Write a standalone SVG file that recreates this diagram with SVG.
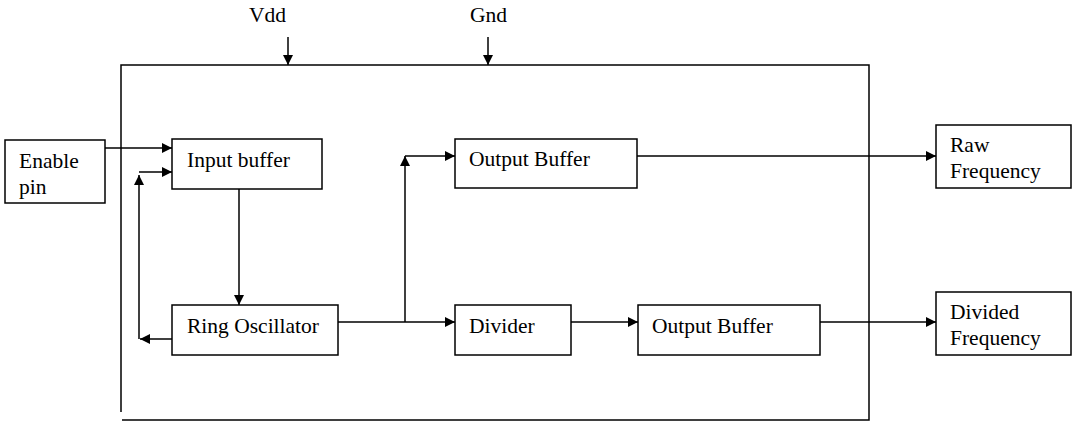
<svg xmlns="http://www.w3.org/2000/svg" width="1080" height="440" viewBox="0 0 1080 440">
<style>
rect{fill:#fff;stroke:#000;stroke-width:1.5}
text{font-family:"Liberation Serif",serif;font-size:21.5px;fill:#000}
#connectors path{fill:none;stroke:#000;stroke-width:1.5}
</style>
<defs><marker id="a" viewBox="0 0 10 10" refX="10" refY="5" markerWidth="10" markerHeight="10" markerUnits="userSpaceOnUse" orient="auto"><path d="M0,0L10,5L0,10z" fill="#000"/></marker></defs>
<rect x="0" y="0" width="1080" height="440" style="stroke:none"/>
<g id="frame"><path d="M121,412V65H869V420H122" fill="none" stroke="#000" stroke-width="1.5"/></g>
<text x="249" y="22">Vdd</text>
<text x="470" y="22">Gnd</text>
<g id="enable"><rect x="5" y="140" width="100" height="63"/><text x="19" y="168">Enable</text><text x="19" y="194">pin</text></g>
<g id="inputbuf"><rect x="172" y="139" width="150" height="50"/><text x="187" y="167">Input buffer</text></g>
<g id="ring"><rect x="172" y="305" width="166" height="50"/><text x="187" y="333">Ring Oscillator</text></g>
<g id="outbuf1"><rect x="455" y="139" width="182" height="49"/><text x="469" y="166">Output Buffer</text></g>
<g id="divider"><rect x="455" y="305" width="116" height="50"/><text x="469" y="333">Divider</text></g>
<g id="outbuf2"><rect x="638" y="305" width="182" height="50"/><text x="652" y="333">Output Buffer</text></g>
<g id="raw"><rect x="936" y="125" width="135" height="63"/><text x="950" y="152">Raw</text><text x="950" y="178">Frequency</text></g>
<g id="divided"><rect x="936" y="292" width="135" height="63"/><text x="950" y="319">Divided</text><text x="950" y="345">Frequency</text></g>
<g id="connectors">
<path d="M288,37V65" marker-end="url(#a)"/>
<path d="M488,37V65" marker-end="url(#a)"/>
<path d="M105,148H172" marker-end="url(#a)"/>
<path d="M239,189V305" marker-end="url(#a)"/>
<path d="M172,339H140" marker-end="url(#a)"/>
<path d="M139,339V175" marker-end="url(#a)"/>
<path d="M139,172H172" marker-end="url(#a)"/>
<path d="M338,322H455" marker-end="url(#a)"/>
<path d="M405,322V156" marker-end="url(#a)"/>
<path d="M405,156H455" marker-end="url(#a)"/>
<path d="M571,322H638" marker-end="url(#a)"/>
<path d="M637,156H936" marker-end="url(#a)"/>
<path d="M820,322H936" marker-end="url(#a)"/>
</g>
</svg>
